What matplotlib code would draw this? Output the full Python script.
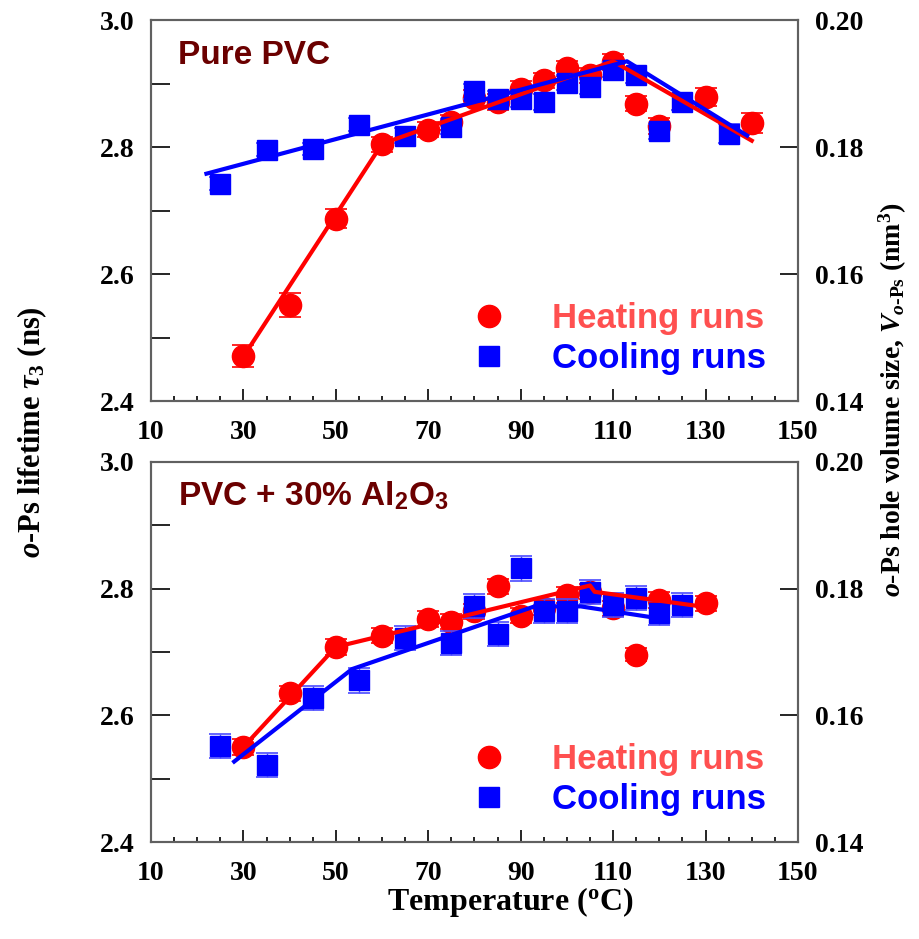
import matplotlib
matplotlib.use('Agg')
import matplotlib.pyplot as plt
from matplotlib.ticker import MultipleLocator, FormatStrFormatter

# ---- data: pure PVC (top) ----
T_heat1 = [30, 40, 50, 60, 70, 75, 80, 85, 90, 95, 100, 105, 110, 115, 120, 130, 140]
tau_heat1 = [2.471, 2.551, 2.687, 2.804, 2.827, 2.839, 2.877, 2.871, 2.892, 2.905,
             2.924, 2.913, 2.934, 2.868, 2.833, 2.879, 2.838]
err_heat1 = [0.018, 0.019, 0.015, 0.012, 0.012, 0.012, 0.012, 0.012, 0.012, 0.012,
             0.012, 0.012, 0.012, 0.012, 0.013, 0.014, 0.016]
T_cool1 = [25, 35, 45, 55, 65, 75, 80, 85, 90, 95, 100, 105, 110, 115, 120, 125, 135]
tau_cool1 = [2.742, 2.796, 2.797, 2.835, 2.818, 2.832, 2.888, 2.876, 2.875, 2.871,
             2.901, 2.895, 2.922, 2.913, 2.825, 2.871, 2.821]
err_cool1 = [0.010, 0.010, 0.010, 0.010, 0.012, 0.012, 0.012, 0.012, 0.012, 0.012,
             0.012, 0.012, 0.012, 0.012, 0.012, 0.013, 0.015]
fitT_heat1 = [30, 60, 110, 140]
fit_heat1 = [2.47, 2.805, 2.935, 2.81]
fitT_cool1 = [22, 113, 139]
fit_cool1 = [2.758, 2.935, 2.818]

# ---- data: PVC + 30% Al2O3 (bottom) ----
T_heat2 = [30, 40, 50, 60, 70, 75, 80, 85, 90, 95, 100, 105, 110, 115, 120, 130]
tau_heat2 = [2.550, 2.635, 2.708, 2.726, 2.752, 2.748, 2.764, 2.804, 2.757, 2.770,
             2.790, 2.795, 2.769, 2.696, 2.782, 2.777]
err_heat2 = [0.012, 0.012, 0.012, 0.012, 0.012, 0.012, 0.012, 0.012, 0.012, 0.012,
             0.012, 0.012, 0.012, 0.010, 0.012, 0.012]
T_cool2 = [25, 35, 45, 55, 65, 75, 80, 85, 90, 95, 100, 105, 110, 115, 120, 125]
tau_cool2 = [2.552, 2.522, 2.627, 2.655, 2.722, 2.714, 2.772, 2.728, 2.832, 2.764,
             2.764, 2.795, 2.774, 2.785, 2.761, 2.774]
err_cool2 = [0.019, 0.019, 0.019, 0.019, 0.019, 0.019, 0.019, 0.019, 0.020, 0.019,
             0.019, 0.019, 0.019, 0.019, 0.019, 0.019]
fitT_heat2 = [30, 50, 105, 106, 129]
fit_heat2 = [2.55, 2.708, 2.805, 2.795, 2.772]
fitT_cool2 = [28, 53.5, 93, 103, 120]
fit_cool2 = [2.527, 2.673, 2.772, 2.772, 2.753]

x_ticks = [10, 30, 50, 70, 90, 110, 130, 150]
panel_titles = ['Pure PVC', r'PVC + 30% Al$_\mathsf{2}$O$_\mathsf{3}$']

plt.rcParams['font.family'] = 'Liberation Serif'
plt.rcParams['font.weight'] = 'bold'
plt.rcParams['mathtext.fontset'] = 'custom'
plt.rcParams['mathtext.rm'] = 'Liberation Serif:bold'
plt.rcParams['mathtext.it'] = 'Liberation Serif:italic:bold'
plt.rcParams['mathtext.bf'] = 'Liberation Serif:bold'
plt.rcParams['mathtext.sf'] = 'Liberation Sans:bold'

RED = '#ff0000'
BLUE = '#0000ff'
SPINE = '#606060'

fig = plt.figure(figsize=(9.19, 9.39), dpi=100)
ax_top = fig.add_axes([0.1643, 0.5729, 0.704, 0.4058])
ax_bot = fig.add_axes([0.1643, 0.1033, 0.704, 0.4047])

datasets = [
    (ax_top, T_heat1, tau_heat1, err_heat1, T_cool1, tau_cool1, err_cool1,
     fitT_heat1, fit_heat1, fitT_cool1, fit_cool1, panel_titles[0]),
    (ax_bot, T_heat2, tau_heat2, err_heat2, T_cool2, tau_cool2, err_cool2,
     fitT_heat2, fit_heat2, fitT_cool2, fit_cool2, panel_titles[1]),
]

for (ax, Th, yh, eh, Tc, yc, ec, fTh, fh, fTc, fc, title) in datasets:
    ax.errorbar(Th, yh, yerr=eh, fmt='none', ecolor=RED, elinewidth=1,
                capsize=8, capthick=1.2, zorder=2)
    h_heat, = ax.plot(Th, yh, 'o', color=RED, markersize=16, zorder=3,
                      label='Heating runs')
    ax.errorbar(Tc, yc, yerr=ec, fmt='none', ecolor='#4a4aff', elinewidth=1,
                capsize=8, capthick=1.2, zorder=4)
    h_cool, = ax.plot(Tc, yc, 's', color=BLUE, markersize=15, zorder=5,
                      label='Cooling runs')
    ax.plot(fTh, fh, '-', color=RED, linewidth=3, zorder=6)
    ax.plot(fTc, fc, '-', color=BLUE, linewidth=3, zorder=7)

    ax.set_xlim(10, 150)
    ax.set_ylim(2.4, 3.0)
    ax.set_xticks(x_ticks)
    ax.xaxis.set_minor_locator(MultipleLocator(5))
    ax.yaxis.set_major_locator(MultipleLocator(0.2))
    ax.yaxis.set_minor_locator(MultipleLocator(0.1))
    ax.yaxis.set_major_formatter(FormatStrFormatter('%.1f'))
    ax.tick_params(axis='x', which='major', direction='in', length=8.6, width=1.2,
                   labelsize=20, pad=14, top=False)
    ax.tick_params(axis='x', which='minor', direction='in', length=3.6, width=1.2,
                   top=False)
    ax.tick_params(axis='y', which='both', direction='in', length=13.5, width=1.2,
                   labelsize=20, pad=12, right=False)
    for s in ax.spines.values():
        s.set_color(SPINE)
        s.set_linewidth(1.5)

    ax2 = ax.twinx()
    ax2.set_ylim(0.14, 0.20)
    ax2.yaxis.set_major_locator(MultipleLocator(0.02))
    ax2.yaxis.set_major_formatter(FormatStrFormatter('%.2f'))
    ax2.tick_params(axis='y', direction='in', length=13, width=1.2, labelsize=20, pad=12)
    for s in ax2.spines.values():
        s.set_color(SPINE)
        s.set_linewidth(1.5)

    ax.text(0.042, 0.885, title, transform=ax.transAxes, family='Liberation Sans',
            fontweight='bold', fontsize=24, color='#6b0000', ha='left', va='baseline')

    ax.legend(handles=[h_heat, h_cool], loc='lower right', bbox_to_anchor=(0.95, 0.068),
              frameon=False, borderpad=0, borderaxespad=0, handlelength=1.8,
              handletextpad=0.9, labelspacing=0.2,
              prop={'family': 'Liberation Sans', 'weight': 'bold', 'size': 25},
              labelcolor=['#ff5050', BLUE])

fig.text(0.035, 0.54, r'$\mathit{o}$-Ps lifetime $\tau_3$ (ns)', rotation=90,
         fontsize=22, ha='center', va='center')
fig.text(0.972, 0.574,
         r'$\mathit{o}$-Ps hole volume size, $\mathit{V}_{\mathit{o}\text{-Ps}}$ (nm$^3$)',
         rotation=90, fontsize=20, ha='center', va='center')
fig.text(0.555, 0.039, r'Temperature ($^\mathrm{o}$C)', fontsize=23, ha='center', va='center')

fig.savefig('out.png', dpi=100)
